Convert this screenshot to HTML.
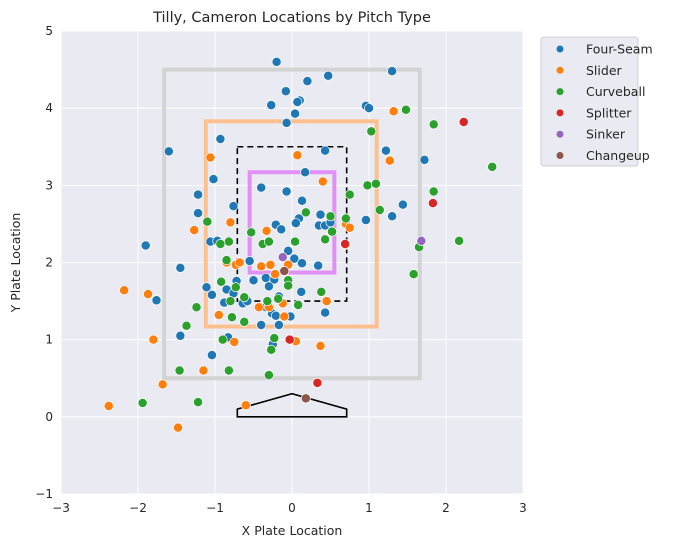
<!DOCTYPE html>
<html><head><meta charset="utf-8"><style>
body{margin:0;background:#fff;font-family:"Liberation Sans","DejaVu Sans",sans-serif;}
svg text{font-family:"DejaVu Sans","Liberation Sans",sans-serif;}
</style></head><body>
<svg id="chart" width="674" height="548"></svg>
<script>
const seriesNames=["Four-Seam","Slider","Curveball","Splitter","Sinker","Changeup"];
const seriesColors=["#1f77b4","#ff7f0e","#2ca02c","#d62728","#9467bd","#8c564b"];
const fourSeam=[[-0.2,4.6],[0.2,4.35],[0.47,4.42],[-0.08,4.22],[-0.27,4.04],[0.1,4.1],[0.07,4.08],[0.04,3.93],[-0.07,3.81],[0.96,4.03],[1.0,4.0],[1.3,4.48],[-0.93,3.6],[-1.6,3.44],[0.43,3.45],[1.22,3.45],[1.72,3.33],[0.17,3.17],[-1.02,3.08],[-0.76,2.73],[-0.4,2.97],[-0.07,2.92],[-1.22,2.88],[-1.22,2.64],[0.13,2.8],[0.37,2.62],[0.09,2.57],[0.05,2.51],[-0.21,2.49],[-0.14,2.43],[0.35,2.48],[0.43,2.48],[0.5,2.52],[0.96,2.55],[1.3,2.6],[1.44,2.75],[-1.9,2.22],[-1.06,2.27],[-0.82,2.28],[-0.97,2.28],[-0.05,2.15],[-0.55,2.02],[0.03,2.05],[0.13,1.99],[0.34,1.96],[-0.72,1.76],[-0.5,1.77],[-0.34,1.8],[-0.23,1.78],[-0.3,1.69],[-0.85,1.65],[-0.76,1.6],[-0.17,1.56],[-1.11,1.68],[-1.45,1.93],[-1.76,1.51],[-1.04,1.58],[-0.88,1.48],[-0.34,1.42],[-0.26,1.34],[-0.21,1.31],[-0.17,1.19],[-0.4,1.19],[-0.64,1.47],[-0.58,1.5],[0.12,1.62],[0.43,1.35],[-1.45,1.05],[-0.83,1.03],[-1.04,0.8],[-0.25,0.94],[-0.02,1.3]];
const slider=[[-1.06,3.36],[-0.8,2.52],[0.07,3.39],[0.4,3.05],[0.7,2.5],[0.75,2.45],[1.27,3.32],[1.32,3.96],[-1.27,2.42],[-0.85,2.0],[-0.73,1.97],[-0.33,2.41],[-0.4,1.95],[-0.28,1.97],[-0.22,1.85],[-0.3,1.42],[-0.1,1.3],[0.45,1.5],[-0.12,1.47],[-0.95,1.32],[-0.75,0.97],[-0.43,1.42],[-0.68,2.0],[-2.18,1.64],[-1.87,1.59],[-1.8,1.0],[-1.68,0.42],[-2.38,0.14],[-1.48,-0.14],[-1.15,0.6],[-0.6,0.15],[0.05,0.98],[0.37,0.92],[-0.05,1.97],[0.7,2.23]];
const curveball=[[-1.1,2.53],[-0.82,2.27],[-0.93,2.24],[-0.85,2.03],[-0.73,1.68],[-0.62,1.55],[-0.38,2.24],[-0.3,2.27],[-0.53,2.39],[0.18,2.65],[0.04,2.27],[-0.05,1.77],[-0.05,1.7],[-0.32,1.5],[-0.8,1.5],[-0.92,1.75],[-0.78,1.29],[-0.62,1.23],[-0.9,1.0],[-0.82,0.6],[-1.24,1.42],[-1.37,1.18],[-1.46,0.6],[-1.22,0.19],[-1.94,0.18],[-0.3,0.54],[-0.27,0.87],[-0.23,1.02],[0.08,1.45],[0.38,1.62],[0.43,2.3],[0.7,2.57],[0.75,2.88],[0.98,3.0],[1.03,3.7],[1.14,2.68],[1.09,3.02],[1.48,3.98],[1.84,3.79],[1.84,2.92],[2.6,3.24],[1.65,2.2],[1.58,1.85],[2.17,2.28],[0.52,2.4],[0.5,2.6],[-0.18,1.53]];
const splitter=[[2.23,3.82],[1.83,2.77],[0.69,2.24],[-0.03,1.0],[0.33,0.44]];
const sinker=[[1.68,2.28],[-0.12,2.07]];
const changeup=[[-0.1,1.89],[0.18,0.24]];
const allSeries=[fourSeam,slider,curveball,splitter,sinker,changeup];
const xTicks=[-3,-2,-1,0,1,2,3];
const yTicks=[-1,0,1,2,3,4,5];

const NS="http://www.w3.org/2000/svg";
const svg=document.getElementById('chart');
const L=61,R=523,T=31,B=494;
const sx=v=>L+(v+3)/6*(R-L);
const sy=v=>B-(v+1)/6*(B-T);
function mk(tag,attrs,parent){const e=document.createElementNS(NS,tag);for(const k in attrs)e.setAttribute(k,attrs[k]);(parent||svg).appendChild(e);return e;}

const bg=mk('rect',{x:L,y:T,width:R-L,height:B-T,fill:'#eaeaf2'});


xTicks.forEach(t=>{
  const g=mk('line',{x1:sx(t),x2:sx(t),y1:T,y2:B,stroke:'#fff','stroke-width':1});
  
  
  const tx=mk('text',{x:sx(t),y:B+18,'text-anchor':'middle','font-size':12,fill:'#262626'});
  tx.textContent=t===0?'0':(t<0?'\u2212'+(-t):t);
  
  
});
yTicks.forEach(t=>{
  const g=mk('line',{x1:L,x2:R,y1:sy(t),y2:sy(t),stroke:'#fff','stroke-width':1});
  
  
  const tx=mk('text',{x:L-8,y:sy(t)+4,'text-anchor':'end','font-size':12,fill:'#262626'});
  tx.textContent=t<0?'\u2212'+(-t):t;
  
  
});
function rectZone(x0,x1,y0,y1,stroke,w,dash,name){
  const r=mk('rect',{x:sx(x0),y:sy(y1),width:sx(x1)-sx(x0),height:sy(y0)-sy(y1),fill:'none',stroke:stroke,'stroke-width':w});
  if(dash)r.setAttribute('stroke-dasharray',dash);
  
  
}
rectZone(-1.66,1.66,0.5,4.5,'#d3d3d3',4,null,'outer-zone');
rectZone(-1.12,1.1,1.17,3.83,'#ffc08f',4,null,'shadow-zone');
rectZone(-0.71,0.71,1.5,3.5,'#000',1.6,'6,4','strike-zone');
rectZone(-0.55,0.55,1.87,3.17,'#e190f5',4,null,'heart-zone');
const hp=[[-0.71,0],[0.71,0],[0.71,0.1],[0,0.3],[-0.71,0.1]];
const plate=mk('polygon',{points:hp.map(p=>sx(p[0])+','+sy(p[1])).join(' '),fill:'none',stroke:'#000','stroke-width':1.6});



allSeries.forEach((s,i)=>{
  s.forEach(p=>{
    const c=mk('circle',{cx:sx(p[0]),cy:sy(p[1]),r:4.6,fill:seriesColors[i],stroke:'#fff','stroke-width':0.7});
    
    
  });
});

const title=mk('text',{x:(L+R)/2,y:22,'text-anchor':'middle','font-size':14.5,fill:'#262626'});
title.textContent='Tilly, Cameron Locations by Pitch Type';


const xl=mk('text',{x:(L+R)/2,y:535,'text-anchor':'middle','font-size':12.5,fill:'#262626'});
xl.textContent='X Plate Location';


const yl=mk('text',{x:20,y:(T+B)/2,'text-anchor':'middle','font-size':12.5,fill:'#262626',transform:'rotate(-90 20 '+((T+B)/2)+')'});
yl.textContent='Y Plate Location';



const lg=mk('rect',{x:541,y:37,width:97,height:129,rx:3,fill:'#eaeaf2',stroke:'#d0d0d0','stroke-width':1});


seriesNames.forEach((n,i)=>{
  const y=49+i*21.3;
  const d=mk('circle',{cx:560,cy:y,r:3.5,fill:seriesColors[i]});
  
  
  const t=mk('text',{x:586,y:y+4.5,'font-size':12.5,fill:'#262626'});
  t.textContent=n;
  
  
});
</script>
</body></html>
